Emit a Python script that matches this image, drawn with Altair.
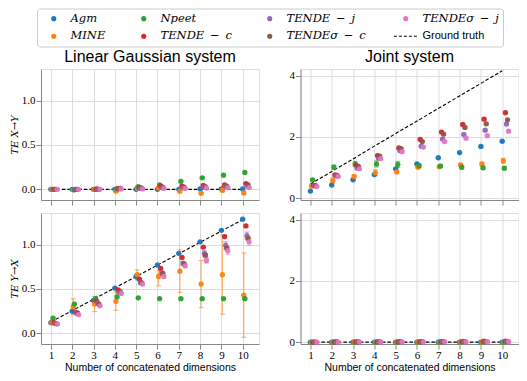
import altair as alt
import pandas as pd

dims = [1, 2, 3, 4, 5, 6, 7, 8, 9, 10]
methods = ["Agm", "MINE", "Npeet", "TENDE\u2002−\u2002c", "TENDE\u2002−\u2002j",
           "TENDEσ\u2002−\u2002c", "TENDEσ\u2002−\u2002j"]
method_colors = ["#1f77b4", "#ff7f0e", "#2ca02c", "#d62728", "#9467bd", "#8c564b", "#e377c2"]
AGM, MINE, NPEET, TC, TJ, TSC, TSJ = methods

# ---- Linear Gaussian system, TE X->Y
lin_xy = {
    AGM:   [0.0, 0.0, 0.0, 0.0, 0.0, 0.0, 0.0, 0.005, 0.005, 0.005],
    MINE:  [0.0, -0.005, 0.0, -0.02, 0.015, 0.015, -0.02, -0.045, -0.01, -0.04],
    NPEET: [0.0, -0.005, 0.0, 0.005, 0.03, 0.05, 0.09, 0.13, 0.16, 0.19],
    TC:    [0.0, 0.0, 0.005, 0.01, 0.02, 0.035, 0.035, 0.045, 0.05, 0.065],
    TJ:    [0.0, 0.0, 0.0, 0.005, 0.01, 0.02, 0.02, 0.025, 0.03, 0.04],
    TSC:   [0.0, 0.0, 0.0, 0.01, 0.015, 0.025, 0.025, 0.03, 0.035, 0.05],
    TSJ:   [0.0, 0.0, 0.0, 0.005, 0.005, 0.01, 0.01, 0.015, 0.02, 0.02],
}
lin_xy_err = {
    AGM:   [0.0, 0.0, 0.0, 0.0, 0.0, 0.0, 0.0, 0.0, 0.0, 0.0],
    MINE:  [0.005, 0.005, 0.01, 0.015, 0.01, 0.01, 0.02, 0.01, 0.02, 0.02],
    NPEET: [0.005, 0.005, 0.005, 0.005, 0.01, 0.01, 0.01, 0.01, 0.01, 0.01],
    TC:    [0.005, 0.005, 0.005, 0.005, 0.005, 0.005, 0.01, 0.01, 0.01, 0.01],
    TJ:    [0.005, 0.005, 0.005, 0.005, 0.005, 0.005, 0.01, 0.01, 0.01, 0.01],
    TSC:   [0.005, 0.005, 0.005, 0.005, 0.005, 0.005, 0.01, 0.01, 0.01, 0.01],
    TSJ:   [0.005, 0.005, 0.005, 0.005, 0.005, 0.005, 0.01, 0.01, 0.01, 0.01],
}
lin_xy_gt = [0.0, 0.0, 0.0, 0.0, 0.0, 0.0, 0.0, 0.0, 0.0, 0.0]

# ---- Linear Gaussian system, TE Y->X
lin_yx = {
    AGM:   [0.12, 0.25, 0.37, 0.51, 0.64, 0.77, 0.90, 1.03, 1.16, 1.285],
    MINE:  [0.12, 0.30, 0.33, 0.36, 0.66, 0.64, 0.70, 0.555, 0.66, 0.43],
    NPEET: [0.17, 0.33, 0.39, 0.41, 0.40, 0.39, 0.39, 0.39, 0.39, 0.39],
    TC:    [0.12, 0.24, 0.36, 0.49, 0.61, 0.73, 0.855, 0.97, 1.09, 1.21],
    TJ:    [0.11, 0.23, 0.34, 0.46, 0.57, 0.68, 0.79, 0.90, 0.99, 1.10],
    TSC:   [0.11, 0.23, 0.33, 0.47, 0.57, 0.675, 0.78, 0.88, 0.96, 1.07],
    TSJ:   [0.105, 0.21, 0.31, 0.45, 0.555, 0.64, 0.76, 0.82, 0.93, 1.03],
}
lin_yx_err = {
    AGM:   [0.0, 0.0, 0.0, 0.0, 0.0, 0.0, 0.0, 0.0, 0.0, 0.0],
    MINE:  [0.01, 0.09, 0.085, 0.10, 0.055, 0.105, 0.24, 0.265, 0.445, 0.475],
    NPEET: [0.01, 0.01, 0.02, 0.01, 0.005, 0.005, 0.005, 0.005, 0.005, 0.005],
    TC:    [0.01, 0.01, 0.01, 0.01, 0.01, 0.01, 0.01, 0.01, 0.015, 0.015],
    TJ:    [0.01, 0.01, 0.01, 0.01, 0.01, 0.02, 0.02, 0.03, 0.04, 0.04],
    TSC:   [0.01, 0.01, 0.01, 0.01, 0.01, 0.015, 0.015, 0.02, 0.02, 0.02],
    TSJ:   [0.01, 0.01, 0.01, 0.01, 0.01, 0.02, 0.02, 0.03, 0.04, 0.04],
}
lin_yx_gt = [0.128, 0.256, 0.384, 0.512, 0.64, 0.768, 0.896, 1.024, 1.152, 1.28]

# ---- Joint system, TE X->Y
joint_xy = {
    AGM:   [0.23, 0.43, 0.60, 0.77, 0.96, 1.12, 1.32, 1.49, 1.69, 1.86],
    MINE:  [0.39, 0.58, 0.71, 0.83, 0.86, 1.01, 1.03, 1.09, 1.12, 1.22],
    NPEET: [0.60, 1.01, 1.12, 1.12, 1.10, 1.06, 1.05, 1.01, 0.99, 0.98],
    TC:    [0.42, 0.76, 1.07, 1.39, 1.64, 1.92, 2.16, 2.41, 2.58, 2.79],
    TJ:    [0.40, 0.73, 0.98, 1.30, 1.55, 1.70, 1.93, 2.08, 2.22, 2.42],
    TSC:   [0.41, 0.74, 1.04, 1.37, 1.62, 1.85, 2.09, 2.31, 2.43, 2.56],
    TSJ:   [0.38, 0.71, 0.96, 1.29, 1.52, 1.67, 1.85, 1.96, 2.04, 2.19],
}
joint_xy_err = {
    AGM:   [0.02, 0.02, 0.02, 0.02, 0.02, 0.02, 0.02, 0.02, 0.02, 0.02],
    MINE:  [0.04, 0.08, 0.04, 0.10, 0.06, 0.04, 0.04, 0.04, 0.05, 0.08],
    NPEET: [0.03, 0.07, 0.08, 0.10, 0.10, 0.06, 0.05, 0.05, 0.05, 0.05],
    TC:    [0.02, 0.03, 0.03, 0.03, 0.03, 0.03, 0.03, 0.03, 0.03, 0.03],
    TJ:    [0.02, 0.03, 0.03, 0.03, 0.03, 0.03, 0.03, 0.03, 0.04, 0.04],
    TSC:   [0.02, 0.03, 0.03, 0.03, 0.03, 0.03, 0.03, 0.03, 0.04, 0.04],
    TSJ:   [0.02, 0.03, 0.03, 0.03, 0.03, 0.03, 0.03, 0.03, 0.03, 0.03],
}
joint_xy_gt = [0.46, 0.87, 1.28, 1.70, 2.11, 2.52, 2.93, 3.34, 3.75, 4.16]

# ---- Joint system, TE Y->X
joint_yx = {
    AGM:   [0.0, 0.0, 0.0, 0.0, 0.0, 0.0, 0.0, 0.0, 0.0, 0.0],
    MINE:  [0.0, 0.0, 0.0, 0.0, 0.0, 0.0, 0.0, 0.0, 0.0, 0.0],
    NPEET: [0.0, 0.0, 0.0, 0.0, 0.0, 0.0, 0.005, 0.005, 0.005, 0.005],
    TC:    [0.0, 0.005, 0.01, 0.01, 0.015, 0.02, 0.02, 0.025, 0.03, 0.035],
    TJ:    [0.0, 0.005, 0.005, 0.005, 0.01, 0.01, 0.015, 0.015, 0.02, 0.02],
    TSC:   [0.0, 0.005, 0.005, 0.01, 0.01, 0.015, 0.015, 0.02, 0.02, 0.025],
    TSJ:   [0.0, 0.0, 0.005, 0.005, 0.005, 0.01, 0.01, 0.01, 0.015, 0.015],
}
joint_yx_err = {m: [0.005] * 10 for m in methods}
joint_yx_gt = [0.0, 0.0, 0.0, 0.0, 0.0, 0.0, 0.0, 0.0, 0.0, 0.0]

# legend entries (Vega fills the 4 legend columns top-to-bottom)
legend_order = methods + ["Ground truth"]
legend_colors = method_colors + ["black"]

dodge = 0.05  # horizontal dodge between methods

panels = {
    "lin_xy": (lin_xy, lin_xy_err, lin_xy_gt),
    "lin_yx": (lin_yx, lin_yx_err, lin_yx_gt),
    "joint_xy": (joint_xy, joint_xy_err, joint_xy_gt),
    "joint_yx": (joint_yx, joint_yx_err, joint_yx_gt),
}

rows, gt_rows = [], []
for key, (vals, errs, gt) in panels.items():
    for i, m in enumerate(methods):
        for j, d in enumerate(dims):
            v = vals[m][j]
            e = errs[m][j]
            rows.append({"panel": key, "method": m, "x": d + i * dodge,
                         "v": v, "lo": v - e, "hi": v + e})
    for j, d in enumerate(dims):
        gt_rows.append({"panel": key, "x": d, "v": gt[j]})
df = pd.DataFrame(rows)
gtdf = pd.DataFrame(gt_rows)

IS_GT = "datum.value === 'Ground truth'"
legend = alt.Legend(
    orient="none", legendX=-4, legendY=-60.5, columns=4, title=None,
    symbolType={"expr": f"{IS_GT} ? 'stroke' : 'circle'"},
    symbolSize={"expr": f"{IS_GT} ? 560 : 26"},
    symbolStrokeColor={"expr": f"{IS_GT} ? 'black' : 'transparent'"},
    symbolStrokeWidth={"expr": f"{IS_GT} ? 1.1 : 0"},
    symbolDash=[3, 2],
    symbolOpacity=1,
    symbolOffset=7,
    padding=4, rowPadding=5,
    columnPadding=25, labelOffset=11, labelLimit=300,
    labelFont={"expr": f"{IS_GT} ? 'Liberation Sans' : 'DejaVu Serif'"},
    labelFontStyle={"expr": f"{IS_GT} ? 'normal' : 'italic'"},
    labelFontSize={"expr": f"{IS_GT} ? 11 : 11.5"},
    labelColor="black",
    strokeColor="#cccccc", fillColor="white", cornerRadius=3,
)
color = alt.Color("method:N", scale=alt.Scale(domain=legend_order, range=legend_colors),
                  legend=legend)

W, H = 218, 131
XDOM = [0.535, 10.765]


def panel(key, ydom, yticks, yfmt, bottom, ytitle, title=None):
    d = df[df.panel == key]
    g = gtdf[gtdf.panel == key]
    xaxis = alt.Axis(values=dims, labels=bottom, title="Number of concatenated dimensions" if bottom else None,
                     labelFont="Liberation Serif", labelFontSize=11, titleFont="Liberation Sans",
                     titleFontSize=10.5, titleFontWeight="normal", labelPadding=0.5, titlePadding=1.5)
    yaxis = alt.Axis(values=yticks, format=yfmt, title=ytitle, labelFont="Liberation Serif",
                     labelFontSize=11, titleFont="DejaVu Serif", titleFontStyle="italic",
                     titleFontWeight="normal", titleFontSize=10, labelPadding=1, titlePadding=2)
    x = alt.X("x:Q", scale=alt.Scale(domain=XDOM, nice=False, zero=False), axis=xaxis)
    y = alt.Y("v:Q", scale=alt.Scale(domain=ydom, nice=False, zero=False), axis=yaxis)
    base = alt.Chart(d)
    gt_line = alt.Chart(g).mark_line(color="black", strokeDash=[3.5, 2], strokeWidth=1.1).encode(x=x, y=y)
    err = base.mark_rule(strokeWidth=1.2, opacity=0.55).encode(
        x=x, y=alt.Y("lo:Q"), y2="hi:Q", color=color)
    cap_lo = base.mark_tick(orient="horizontal", size=5, thickness=1.2, opacity=0.55).encode(
        x=x, y=alt.Y("lo:Q"), color=color)
    cap_hi = base.mark_tick(orient="horizontal", size=5, thickness=1.2, opacity=0.55).encode(
        x=x, y=alt.Y("hi:Q"), color=color)
    pts = base.mark_circle(size=28, opacity=0.95).encode(x=x, y=y, color=color)
    props = dict(width=W, height=H)
    if title:
        props["title"] = alt.TitleParams(title, font="Liberation Sans", fontSize=16,
                                         fontWeight="normal", offset=4, color="black")
    return alt.layer(gt_line, err, cap_lo, cap_hi, pts).properties(**props)


LEFT_DOM = [-0.12, 1.355]
RIGHT_DOM = [-0.06, 4.22]
tl = panel("lin_xy", LEFT_DOM, [0, 0.5, 1.0], ".1f", False, "TE X→Y", "Linear Gaussian system")
tr = panel("joint_xy", RIGHT_DOM, [0, 1, 2, 3, 4], "d", False, None, "Joint system")
bl = panel("lin_yx", LEFT_DOM, [0, 0.5, 1.0], ".1f", True, "TE Y→X")
br = panel("joint_yx", RIGHT_DOM, [0, 1, 2, 3, 4], "d", True, None)

chart = alt.vconcat(
    alt.hconcat(tl, tr, spacing=28.5),
    alt.hconcat(bl, br, spacing=28.5),
    spacing=6,
).resolve_scale(
    x="independent", y="independent", color="shared"
).properties(
    padding={"left": 0, "top": 0, "right": 0, "bottom": 0}
).configure_view(
    stroke="#333333", strokeWidth=0.9
).configure_axis(
    grid=False, domain=False, tickColor="#333333", tickSize=3.5, tickWidth=0.8,
    labelColor="black", titleColor="black"
).configure(background="white")

chart.save("out.html", embed_options={"renderer": "svg", "actions": False})
